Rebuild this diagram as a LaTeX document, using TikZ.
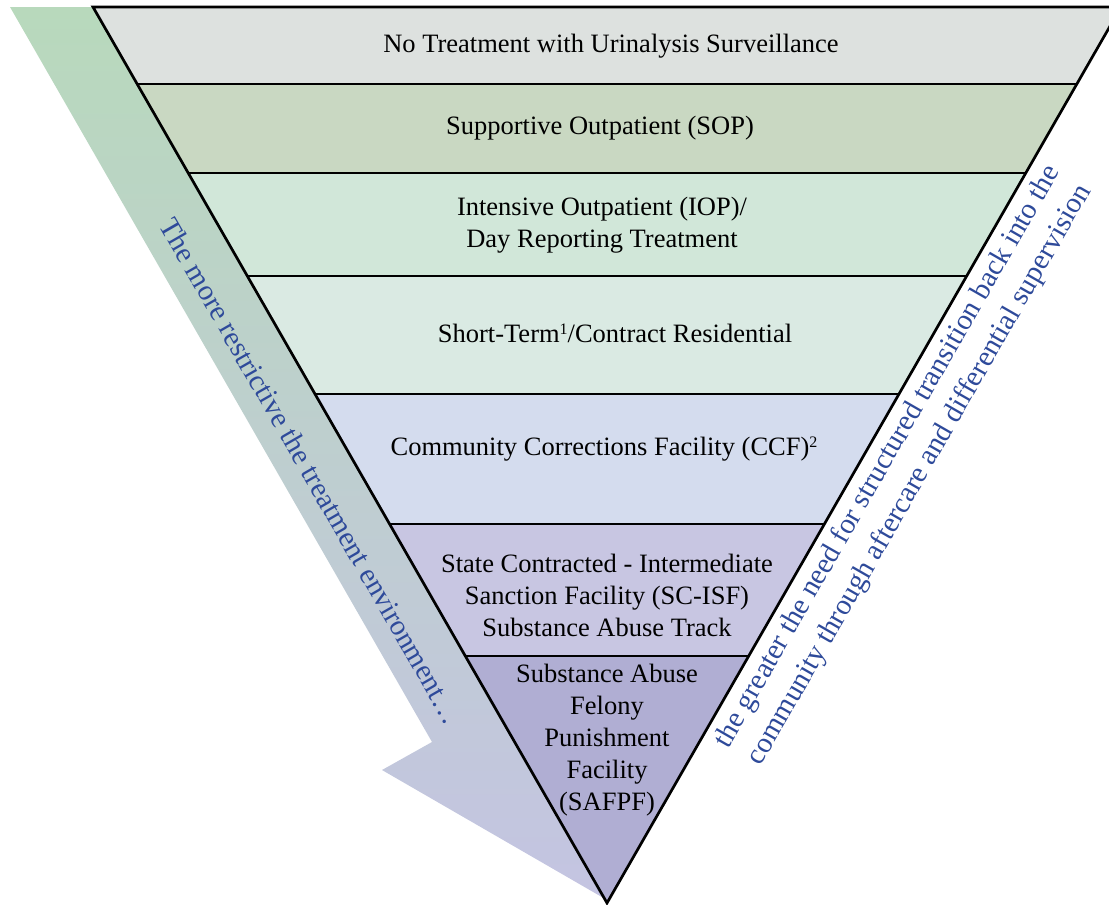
\documentclass[tikz,border=0pt]{standalone}
\usepackage{fontspec}
\setmainfont{Liberation Serif}
\definecolor{bandA}{HTML}{DDE1DF}
\definecolor{bandB}{HTML}{C9D8C2}
\definecolor{bandC}{HTML}{D1E7D9}
\definecolor{bandD}{HTML}{DAEAE3}
\definecolor{bandE}{HTML}{D4DCEE}
\definecolor{bandF}{HTML}{C8C6E2}
\definecolor{bandG}{HTML}{B0AED3}
\definecolor{arrowtop}{HTML}{B8D9BC}
\definecolor{arrowbot}{HTML}{C4C4E2}
\definecolor{notecol}{HTML}{2E4A9A}
\newcommand{\supnum}[1]{\raisebox{8pt}{\fontsize{16}{16}\selectfont #1}}

\begin{document}
\begin{tikzpicture}[x=1pt,y=-1pt,
	level/.style={align=center,font=\fontsize{26.5}{32}\selectfont},
	note/.style={align=center,text=notecol,font=\fontsize{29}{37}\selectfont}]
			\useasboundingbox (0,0) rectangle (1109,905);
			% arrow behind the funnel
			\shade[top color=arrowtop,bottom color=arrowbot] (10,7) -- (432,742) -- (382,770) -- (607,900) -- (300,7) -- cycle;
			
			% the bands
			\begin{scope}
				\clip (93,7) -- (1121,7) -- (607,903) -- cycle;
				\fill[bandA] (0,7) rectangle (1200,84);
				\fill[bandB] (0,84) rectangle (1200,173);
				\fill[bandC] (0,173) rectangle (1200,276);
				\fill[bandD] (0,276) rectangle (1200,394);
				\fill[bandE] (0,394) rectangle (1200,524);
				\fill[bandF] (0,524) rectangle (1200,656);
				\fill[bandG] (0,656) rectangle (1200,905);
				\draw[line width=2.7pt] (0,84) -- (1200,84);
				\draw[line width=2.7pt] (0,173) -- (1200,173);
				\draw[line width=2.7pt] (0,276) -- (1200,276);
				\draw[line width=2.7pt] (0,394) -- (1200,394);
				\draw[line width=2.7pt] (0,524) -- (1200,524);
				\draw[line width=2.7pt] (0,656) -- (1200,656);
			\end{scope}
			\draw[line width=2.7pt,line join=miter] (93,7) -- (1121,7) -- (607,903) -- cycle;
			
			\node[level] (none) at (611,46) {No Treatment with Urinalysis Surveillance};
			\node[level] (sop) at (600,128) {Supportive Outpatient (SOP)};
			\node[level] (iop) at (602,225) {Intensive Outpatient (IOP)/\\Day Reporting Treatment};
			\node[level] (str) at (615,333) {Short-Term\supnum{1}/Contract Residential};
			\node[level] (ccf) at (604,449) {Community Corrections Facility (CCF)\supnum{2}};
			\node[level] (scisf) at (607,595) {State Contracted - Intermediate\\Sanction Facility (SC-ISF)\\Substance Abuse Track};
			\node[level] (safpf) at (607,740) {Substance Abuse\\Felony\\Punishment\\Facility\\(SAFPF)};
			
			\node[note,rotate=-60.15] (restrict) at (311,471) {The more restrictive the treatment environment\dots};
			\node[note,rotate=60.15] (transition) at (904,466) {the greater the need for structured transition back into the\\community through aftercare and differential supervision};
		\end{tikzpicture}
\end{document}
